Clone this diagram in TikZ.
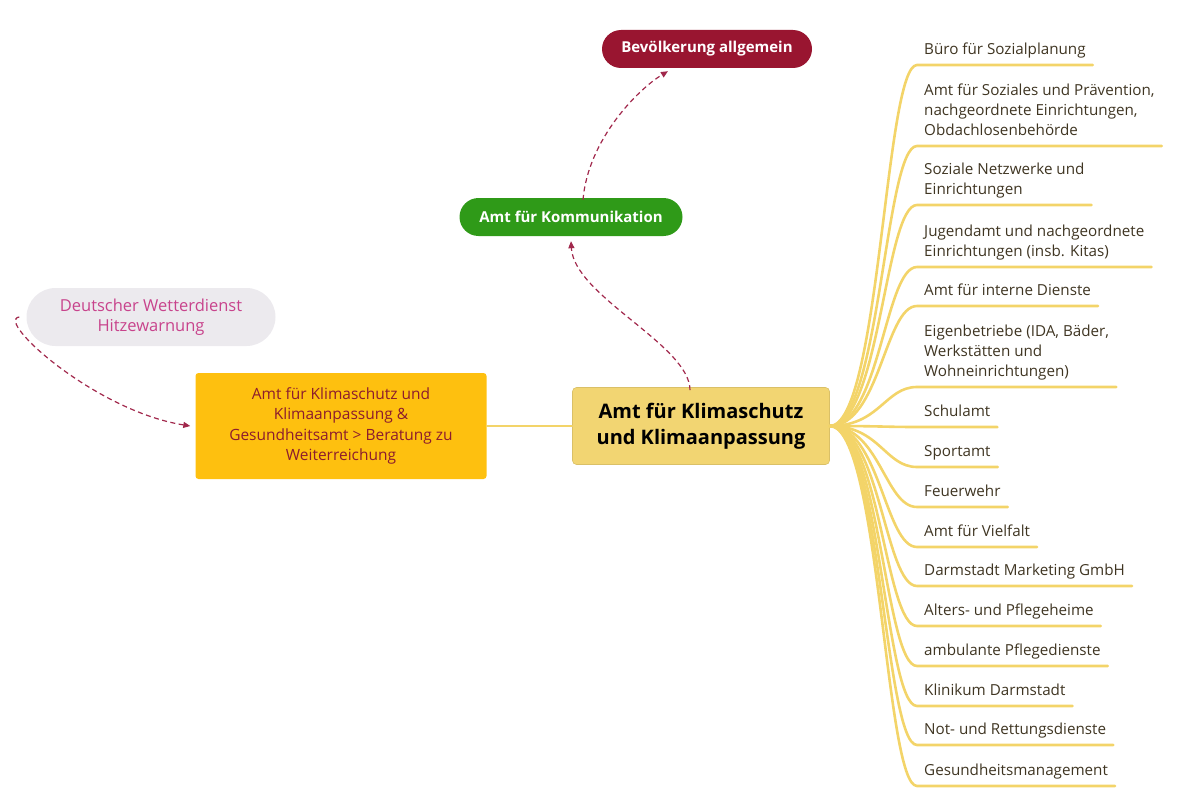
\documentclass[tikz,border=0pt]{standalone}
\usepackage{fontspec}
\setmainfont{Open Sans}
\usetikzlibrary{arrows.meta}

\definecolor{branchyellow}{HTML}{F3D469}
\definecolor{centralfill}{HTML}{F2D572}
\definecolor{orangefill}{HTML}{FEC00F}
\definecolor{greyfill}{HTML}{ECEAEE}
\definecolor{greenfill}{HTML}{2F9A18}
\definecolor{redfill}{HTML}{991530}
\definecolor{darkred}{HTML}{8C1C2E}
\definecolor{pinktext}{HTML}{C8438C}
\definecolor{linkred}{HTML}{A1284C}
\definecolor{itemtext}{HTML}{3F3522}

\tikzset{
	central/.style={fill=centralfill, draw=centralfill!90!black, line width=0.6pt, rounded corners=4pt, minimum width=257pt, minimum height=77pt, align=center, font=\fontsize{20}{26}\selectfont\bfseries},
	subtopic/.style={fill=orangefill, rounded corners=3pt, minimum width=291pt, minimum height=106pt, align=center, text=darkred, font=\fontsize{15.5}{20.5}\selectfont},
	pill/.style={rounded corners=#1, inner xsep=10pt, align=center},
	item/.style={anchor=south west, inner xsep=7pt, inner ysep=6.5pt, text depth=4pt, align=left, text=itemtext, font=\fontsize{15.2}{20}\selectfont},
	branch/.style={draw=branchyellow, line width=2.6pt, line cap=round},
	link/.style={draw=linkred, line width=1.2pt, dash pattern=on 5pt off 3.5pt, -{Triangle[length=7pt, width=6pt]}}
}

\begin{document}
\begin{tikzpicture}[x=1pt, y=-1pt]
			%%%%% START %%%%%
			\useasboundingbox (0,0) rectangle (1203,800);
			
			\node[central] (klima) at (701, 426) {Amt für Klimaschutz\\und Klimaanpassung};
			
			\node[subtopic] (beratung) at (341, 426) {Amt für Klimaschutz und\\Klimaanpassung \&\\Gesundheitsamt > Beratung zu\\Weiterreichung};
			\draw[branch, line width=2pt] (klima.west) -- (beratung.east);
			
			\node[pill=29pt, fill=greyfill, minimum width=249pt, minimum height=58pt, text=pinktext, font=\fontsize{16.5}{20}\selectfont] (dwd) at (151, 317) {Deutscher Wetterdienst\\Hitzewarnung};
			\node[pill=19pt, fill=greenfill, minimum width=223pt, minimum height=38pt, text=white, font=\fontsize{15}{18}\selectfont\bfseries] (komm) at (571, 217) {Amt für Kommunikation};
			\node[pill=19pt, fill=redfill, minimum width=210pt, minimum height=38pt, text=white, font=\fontsize{15}{18}\selectfont\bfseries] (bevoelkerung) at (707, 49) {Bevölkerung allgemein};
			
			% dashed relations
			\draw[link] ([xshift=-7pt]dwd.west) .. controls +(-25,3) and +(-95,-15) .. ([xshift=-5pt]beratung.west);
			\draw[link] ([xshift=-11pt, yshift=-3pt]klima.north) .. controls +(0,-45) and +(3,55) .. ([yshift=-5pt]komm.south);
			\draw[link] ([xshift=12pt, yshift=-2pt]komm.north) .. controls +(5,-60) and +(-30,18) .. ([xshift=-39pt, yshift=-3pt]bevoelkerung.south);
			
			% branches
			\foreach \uy/\nm/\txt in {
				65/b1/{Büro für Sozialplanung},
				146/b2/{Amt für Soziales und Prävention,\\nachgeordnete Einrichtungen,\\Obdachlosenbehörde},
				205/b3/{Soziale Netzwerke und\\Einrichtungen},
				267/b4/{Jugendamt und nachgeordnete\\Einrichtungen (insb. Kitas)},
				306/b5/{Amt für interne Dienste},
				387/b6/{Eigenbetriebe (IDA, Bäder,\\Werkstätten und\\Wohneinrichtungen)},
				427/b7/{Schulamt},
				467/b8/{Sportamt},
				507/b9/{Feuerwehr},
				547/b10/{Amt für Vielfalt},
				586/b11/{Darmstadt Marketing GmbH},
				626/b12/{Alters- und Pflegeheime},
				666/b13/{ambulante Pflegedienste},
				706/b14/{Klinikum Darmstadt},
				745/b15/{Not- und Rettungsdienste},
				786/b16/{Gesundheitsmanagement}}
			{
				\node[item] (\nm) at (917, \uy) {\txt};
				\draw[branch] (klima.east) .. controls +(50,0) and +(-32,0) .. (\nm.south west) -- (\nm.south east);
			}
			
			%%%%% END %%%%%
\end{tikzpicture}
\end{document}
